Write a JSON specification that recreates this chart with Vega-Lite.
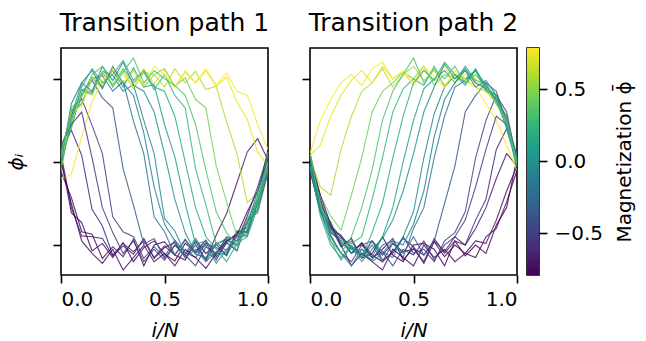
{
"$schema": "https://vega.github.io/schema/vega-lite/v6.json",
"background": "white",
"padding": {"left": 5, "top": 10, "right": 0, "bottom": 5},
"datasets": {
"lines": [{"l":1,"p":1,"m":-0.78},{"l":2,"p":1,"m":-0.76},{"l":3,"p":1,"m":-0.7},{"l":4,"p":1,"m":-0.62},{"l":5,"p":1,"m":-0.5},{"l":6,"p":1,"m":-0.35},{"l":7,"p":1,"m":-0.2},{"l":8,"p":1,"m":-0.05},{"l":9,"p":1,"m":0.1},{"l":10,"p":1,"m":0.25},{"l":11,"p":1,"m":0.45},{"l":12,"p":1,"m":0.6},{"l":13,"p":1,"m":0.72},{"l":14,"p":1,"m":0.78},
{"l":15,"p":2,"m":-0.78},{"l":16,"p":2,"m":-0.76},{"l":17,"p":2,"m":-0.7},{"l":18,"p":2,"m":-0.62},{"l":19,"p":2,"m":-0.5},{"l":20,"p":2,"m":-0.35},{"l":21,"p":2,"m":-0.2},{"l":22,"p":2,"m":-0.05},{"l":23,"p":2,"m":0.1},{"l":24,"p":2,"m":0.25},{"l":25,"p":2,"m":0.45},{"l":26,"p":2,"m":0.6},{"l":27,"p":2,"m":0.72},{"l":28,"p":2,"m":0.78},
{"l":29,"p":1,"m":-0.74},{"l":30,"p":1,"m":-0.55},{"l":31,"p":1,"m":-0.1},{"l":32,"p":1,"m":0.0},{"l":33,"p":1,"m":0.18},{"l":34,"p":1,"m":0.35},
{"l":35,"p":2,"m":-0.74},{"l":36,"p":2,"m":-0.55},{"l":37,"p":2,"m":-0.1},{"l":38,"p":2,"m":0.0},{"l":39,"p":2,"m":0.18},{"l":40,"p":2,"m":0.35}],
"bar": [{"lo": -0.79, "hi": 0.785}],
"pts": [
{"l":1,"x":0,"y":0.05},{"l":1,"x":0.05,"y":-0.61},{"l":1,"x":0.1,"y":-0.73},{"l":1,"x":0.15,"y":-1.07},{"l":1,"x":0.2,"y":-0.98},{"l":1,"x":0.25,"y":-1.15},{"l":1,"x":0.3,"y":-0.97},{"l":1,"x":0.35,"y":-1.2},{"l":1,"x":0.4,"y":-1.03},{"l":1,"x":0.45,"y":-0.95},{"l":1,"x":0.5,"y":-1.11},{"l":1,"x":0.55,"y":-1.19},{"l":1,"x":0.6,"y":-0.98},{"l":1,"x":0.65,"y":-1.08},{"l":1,"x":0.7,"y":-0.94},{"l":1,"x":0.75,"y":-1.14},{"l":1,"x":0.8,"y":-0.97},{"l":1,"x":0.85,"y":-1.07},{"l":1,"x":0.9,"y":-0.71},{"l":1,"x":0.95,"y":-0.57},{"l":1,"x":1,"y":-0.1},
{"l":2,"x":0,"y":-0.12},{"l":2,"x":0.05,"y":-0.43},{"l":2,"x":0.1,"y":-0.84},{"l":2,"x":0.15,"y":-0.87},{"l":2,"x":0.2,"y":-1.16},{"l":2,"x":0.25,"y":-1.02},{"l":2,"x":0.3,"y":-1.14},{"l":2,"x":0.35,"y":-0.93},{"l":2,"x":0.4,"y":-1.25},{"l":2,"x":0.45,"y":-1.0},{"l":2,"x":0.5,"y":-0.96},{"l":2,"x":0.55,"y":-1.12},{"l":2,"x":0.6,"y":-1.18},{"l":2,"x":0.65,"y":-0.95},{"l":2,"x":0.7,"y":-1.1},{"l":2,"x":0.75,"y":-0.99},{"l":2,"x":0.8,"y":-1.13},{"l":2,"x":0.85,"y":-0.86},{"l":2,"x":0.9,"y":-0.83},{"l":2,"x":0.95,"y":-0.41},{"l":2,"x":1,"y":0.15},
{"l":3,"x":0,"y":0.1},{"l":3,"x":0.05,"y":-0.55},{"l":3,"x":0.1,"y":-0.89},{"l":3,"x":0.15,"y":-0.9},{"l":3,"x":0.2,"y":-0.92},{"l":3,"x":0.25,"y":-1.13},{"l":3,"x":0.3,"y":-1.01},{"l":3,"x":0.35,"y":-1.11},{"l":3,"x":0.4,"y":-0.92},{"l":3,"x":0.45,"y":-1.16},{"l":3,"x":0.5,"y":-1.03},{"l":3,"x":0.55,"y":-0.97},{"l":3,"x":0.6,"y":-1.15},{"l":3,"x":0.65,"y":-1.0},{"l":3,"x":0.7,"y":-1.18},{"l":3,"x":0.75,"y":-0.88},{"l":3,"x":0.8,"y":-0.62},{"l":3,"x":0.85,"y":-0.25},{"l":3,"x":0.9,"y":0.12},{"l":3,"x":0.95,"y":0.28},{"l":3,"x":1,"y":0.02},
{"l":4,"x":0,"y":0.15},{"l":4,"x":0.05,"y":0.38},{"l":4,"x":0.1,"y":0.08},{"l":4,"x":0.15,"y":-0.57},{"l":4,"x":0.2,"y":-0.77},{"l":4,"x":0.25,"y":-1.12},{"l":4,"x":0.3,"y":-0.98},{"l":4,"x":0.35,"y":-1.08},{"l":4,"x":0.4,"y":-0.95},{"l":4,"x":0.45,"y":-1.15},{"l":4,"x":0.5,"y":-1.01},{"l":4,"x":0.55,"y":-1.12},{"l":4,"x":0.6,"y":-0.93},{"l":4,"x":0.65,"y":-1.1},{"l":4,"x":0.7,"y":-0.97},{"l":4,"x":0.75,"y":-1.18},{"l":4,"x":0.8,"y":-0.97},{"l":4,"x":0.85,"y":-0.85},{"l":4,"x":0.9,"y":-0.79},{"l":4,"x":0.95,"y":-0.45},{"l":4,"x":1,"y":-0.05},
{"l":5,"x":0,"y":-0.05},{"l":5,"x":0.05,"y":0.56},{"l":5,"x":0.1,"y":0.76},{"l":5,"x":0.15,"y":0.44},{"l":5,"x":0.2,"y":0.1},{"l":5,"x":0.25,"y":-0.66},{"l":5,"x":0.3,"y":-0.84},{"l":5,"x":0.35,"y":-0.9},{"l":5,"x":0.4,"y":-1.16},{"l":5,"x":0.45,"y":-1.02},{"l":5,"x":0.5,"y":-1.14},{"l":5,"x":0.55,"y":-0.94},{"l":5,"x":0.6,"y":-1.09},{"l":5,"x":0.65,"y":-1.15},{"l":5,"x":0.7,"y":-0.98},{"l":5,"x":0.75,"y":-1.03},{"l":5,"x":0.8,"y":-1.1},{"l":5,"x":0.85,"y":-0.83},{"l":5,"x":0.9,"y":-0.85},{"l":5,"x":0.95,"y":-0.48},{"l":5,"x":1,"y":0.1},
{"l":6,"x":0,"y":0.08},{"l":6,"x":0.05,"y":0.44},{"l":6,"x":0.1,"y":0.84},{"l":6,"x":0.15,"y":0.98},{"l":6,"x":0.2,"y":0.77},{"l":6,"x":0.25,"y":0.65},{"l":6,"x":0.3,"y":-0.08},{"l":6,"x":0.35,"y":-0.52},{"l":6,"x":0.4,"y":-0.99},{"l":6,"x":0.45,"y":-0.92},{"l":6,"x":0.5,"y":-1.16},{"l":6,"x":0.55,"y":-1.0},{"l":6,"x":0.6,"y":-1.12},{"l":6,"x":0.65,"y":-0.95},{"l":6,"x":0.7,"y":-1.19},{"l":6,"x":0.75,"y":-0.99},{"l":6,"x":0.8,"y":-0.93},{"l":6,"x":0.85,"y":-1.0},{"l":6,"x":0.9,"y":-0.69},{"l":6,"x":0.95,"y":-0.61},{"l":6,"x":1,"y":-0.12},
{"l":7,"x":0,"y":-0.1},{"l":7,"x":0.05,"y":0.62},{"l":7,"x":0.1,"y":0.7},{"l":7,"x":0.15,"y":1.0},{"l":7,"x":0.2,"y":1.04},{"l":7,"x":0.25,"y":0.85},{"l":7,"x":0.3,"y":0.97},{"l":7,"x":0.35,"y":0.49},{"l":7,"x":0.4,"y":0.1},{"l":7,"x":0.45,"y":-0.66},{"l":7,"x":0.5,"y":-0.84},{"l":7,"x":0.55,"y":-1.12},{"l":7,"x":0.6,"y":-0.94},{"l":7,"x":0.65,"y":-1.11},{"l":7,"x":0.7,"y":-1.15},{"l":7,"x":0.75,"y":-0.97},{"l":7,"x":0.8,"y":-1.07},{"l":7,"x":0.85,"y":-0.85},{"l":7,"x":0.9,"y":-0.89},{"l":7,"x":0.95,"y":-0.47},{"l":7,"x":1,"y":0.05},
{"l":8,"x":0,"y":0.12},{"l":8,"x":0.05,"y":0.45},{"l":8,"x":0.1,"y":0.85},{"l":8,"x":0.15,"y":0.82},{"l":8,"x":0.2,"y":1.09},{"l":8,"x":0.25,"y":1.04},{"l":8,"x":0.3,"y":0.85},{"l":8,"x":0.35,"y":0.93},{"l":8,"x":0.4,"y":0.5},{"l":8,"x":0.45,"y":0.1},{"l":8,"x":0.5,"y":-0.68},{"l":8,"x":0.55,"y":-0.83},{"l":8,"x":0.6,"y":-1.1},{"l":8,"x":0.65,"y":-0.92},{"l":8,"x":0.7,"y":-1.1},{"l":8,"x":0.75,"y":-1.15},{"l":8,"x":0.8,"y":-0.94},{"l":8,"x":0.85,"y":-1.01},{"l":8,"x":0.9,"y":-0.69},{"l":8,"x":0.95,"y":-0.48},{"l":8,"x":1,"y":-0.15},
{"l":9,"x":0,"y":-0.08},{"l":9,"x":0.05,"y":0.6},{"l":9,"x":0.1,"y":0.8},{"l":9,"x":0.15,"y":1.02},{"l":9,"x":0.2,"y":0.91},{"l":9,"x":0.25,"y":1.1},{"l":9,"x":0.3,"y":0.9},{"l":9,"x":0.35,"y":1.13},{"l":9,"x":0.4,"y":0.9},{"l":9,"x":0.45,"y":0.93},{"l":9,"x":0.5,"y":0.45},{"l":9,"x":0.55,"y":0.06},{"l":9,"x":0.6,"y":-0.5},{"l":9,"x":0.65,"y":-0.99},{"l":9,"x":0.7,"y":-0.95},{"l":9,"x":0.75,"y":-1.12},{"l":9,"x":0.8,"y":-0.92},{"l":9,"x":0.85,"y":-0.9},{"l":9,"x":0.9,"y":-0.89},{"l":9,"x":0.95,"y":-0.43},{"l":9,"x":1,"y":0.08},
{"l":10,"x":0,"y":0.05},{"l":10,"x":0.05,"y":0.4},{"l":10,"x":0.1,"y":0.87},{"l":10,"x":0.15,"y":0.84},{"l":10,"x":0.2,"y":1.07},{"l":10,"x":0.25,"y":0.92},{"l":10,"x":0.3,"y":1.12},{"l":10,"x":0.35,"y":0.95},{"l":10,"x":0.4,"y":1.08},{"l":10,"x":0.45,"y":0.87},{"l":10,"x":0.5,"y":1.05},{"l":10,"x":0.55,"y":0.8},{"l":10,"x":0.6,"y":0.65},{"l":10,"x":0.65,"y":-0.08},{"l":10,"x":0.7,"y":-0.52},{"l":10,"x":0.75,"y":-0.99},{"l":10,"x":0.8,"y":-0.92},{"l":10,"x":0.85,"y":-1.06},{"l":10,"x":0.9,"y":-0.69},{"l":10,"x":0.95,"y":-0.58},{"l":10,"x":1,"y":-0.05},
{"l":11,"x":0,"y":-0.12},{"l":11,"x":0.05,"y":0.58},{"l":11,"x":0.1,"y":0.7},{"l":11,"x":0.15,"y":1.0},{"l":11,"x":0.2,"y":0.89},{"l":11,"x":0.25,"y":1.12},{"l":11,"x":0.3,"y":0.94},{"l":11,"x":0.35,"y":1.1},{"l":11,"x":0.4,"y":0.9},{"l":11,"x":0.45,"y":1.05},{"l":11,"x":0.5,"y":1.12},{"l":11,"x":0.55,"y":0.91},{"l":11,"x":0.6,"y":1.01},{"l":11,"x":0.65,"y":0.75},{"l":11,"x":0.7,"y":0.65},{"l":11,"x":0.75,"y":-0.05},{"l":11,"x":0.8,"y":-0.48},{"l":11,"x":0.85,"y":-0.9},{"l":11,"x":0.9,"y":-0.7},{"l":11,"x":0.95,"y":-0.42},{"l":11,"x":1,"y":0.12},
{"l":12,"x":0,"y":0.1},{"l":12,"x":0.05,"y":0.45},{"l":12,"x":0.1,"y":0.85},{"l":12,"x":0.15,"y":0.8},{"l":12,"x":0.2,"y":1.09},{"l":12,"x":0.25,"y":0.94},{"l":12,"x":0.3,"y":1.1},{"l":12,"x":0.35,"y":0.88},{"l":12,"x":0.4,"y":1.08},{"l":12,"x":0.45,"y":1.05},{"l":12,"x":0.5,"y":0.9},{"l":12,"x":0.55,"y":1.12},{"l":12,"x":0.6,"y":0.95},{"l":12,"x":0.65,"y":1.09},{"l":12,"x":0.7,"y":0.87},{"l":12,"x":0.75,"y":0.91},{"l":12,"x":0.8,"y":0.48},{"l":12,"x":0.85,"y":0.1},{"l":12,"x":0.9,"y":-0.49},{"l":12,"x":0.95,"y":-0.37},{"l":12,"x":1,"y":-0.1},
{"l":13,"x":0,"y":-0.05},{"l":13,"x":0.05,"y":0.6},{"l":13,"x":0.1,"y":0.67},{"l":13,"x":0.15,"y":1.02},{"l":13,"x":0.2,"y":0.92},{"l":13,"x":0.25,"y":1.1},{"l":13,"x":0.3,"y":1.05},{"l":13,"x":0.35,"y":0.9},{"l":13,"x":0.4,"y":1.12},{"l":13,"x":0.45,"y":0.94},{"l":13,"x":0.5,"y":1.1},{"l":13,"x":0.55,"y":0.9},{"l":13,"x":0.6,"y":1.08},{"l":13,"x":0.65,"y":0.95},{"l":13,"x":0.7,"y":1.1},{"l":13,"x":0.75,"y":0.91},{"l":13,"x":0.8,"y":1.02},{"l":13,"x":0.85,"y":0.72},{"l":13,"x":0.9,"y":0.51},{"l":13,"x":0.95,"y":0.12},{"l":13,"x":1,"y":-0.05},
{"l":14,"x":0,"y":-0.2},{"l":14,"x":0.05,"y":-0.15},{"l":14,"x":0.1,"y":0.3},{"l":14,"x":0.15,"y":0.72},{"l":14,"x":0.2,"y":0.98},{"l":14,"x":0.25,"y":1.12},{"l":14,"x":0.3,"y":0.95},{"l":14,"x":0.35,"y":1.1},{"l":14,"x":0.4,"y":0.92},{"l":14,"x":0.45,"y":1.15},{"l":14,"x":0.5,"y":1.05},{"l":14,"x":0.55,"y":0.9},{"l":14,"x":0.6,"y":1.1},{"l":14,"x":0.65,"y":0.95},{"l":14,"x":0.7,"y":1.12},{"l":14,"x":0.75,"y":0.92},{"l":14,"x":0.8,"y":1.07},{"l":14,"x":0.85,"y":0.85},{"l":14,"x":0.9,"y":0.8},{"l":14,"x":0.95,"y":0.45},{"l":14,"x":1,"y":0.15},
{"l":15,"x":0,"y":-0.1},{"l":15,"x":0.05,"y":-0.6},{"l":15,"x":0.1,"y":-0.78},{"l":15,"x":0.15,"y":-1.02},{"l":15,"x":0.2,"y":-0.92},{"l":15,"x":0.25,"y":-1.16},{"l":15,"x":0.3,"y":-1.1},{"l":15,"x":0.35,"y":-0.9},{"l":15,"x":0.4,"y":-1.12},{"l":15,"x":0.45,"y":-1.2},{"l":15,"x":0.5,"y":-1.0},{"l":15,"x":0.55,"y":-0.98},{"l":15,"x":0.6,"y":-1.05},{"l":15,"x":0.65,"y":-1.25},{"l":15,"x":0.7,"y":-0.95},{"l":15,"x":0.75,"y":-1.13},{"l":15,"x":0.8,"y":-1.0},{"l":15,"x":0.85,"y":-1.1},{"l":15,"x":0.9,"y":-0.76},{"l":15,"x":0.95,"y":-0.55},{"l":15,"x":1,"y":0.05},
{"l":16,"x":0,"y":0.1},{"l":16,"x":0.05,"y":-0.45},{"l":16,"x":0.1,"y":-0.8},{"l":16,"x":0.15,"y":-0.9},{"l":16,"x":0.2,"y":-1.1},{"l":16,"x":0.25,"y":-0.97},{"l":16,"x":0.3,"y":-1.12},{"l":16,"x":0.35,"y":-1.2},{"l":16,"x":0.4,"y":-1.08},{"l":16,"x":0.45,"y":-0.92},{"l":16,"x":0.5,"y":-1.02},{"l":16,"x":0.55,"y":-1.22},{"l":16,"x":0.6,"y":-0.96},{"l":16,"x":0.65,"y":-1.14},{"l":16,"x":0.7,"y":-1.0},{"l":16,"x":0.75,"y":-1.1},{"l":16,"x":0.8,"y":-1.15},{"l":16,"x":0.85,"y":-0.9},{"l":16,"x":0.9,"y":-0.8},{"l":16,"x":0.95,"y":-0.48},{"l":16,"x":1,"y":-0.1},
{"l":17,"x":0,"y":0.05},{"l":17,"x":0.05,"y":-0.5},{"l":17,"x":0.1,"y":-0.85},{"l":17,"x":0.15,"y":-0.95},{"l":17,"x":0.2,"y":-1.1},{"l":17,"x":0.25,"y":-0.98},{"l":17,"x":0.3,"y":-1.15},{"l":17,"x":0.35,"y":-1.05},{"l":17,"x":0.4,"y":-0.92},{"l":17,"x":0.45,"y":-1.18},{"l":17,"x":0.5,"y":-1.04},{"l":17,"x":0.55,"y":-1.12},{"l":17,"x":0.6,"y":-0.95},{"l":17,"x":0.65,"y":-1.08},{"l":17,"x":0.7,"y":-0.9},{"l":17,"x":0.75,"y":-1.0},{"l":17,"x":0.8,"y":-0.8},{"l":17,"x":0.85,"y":-0.55},{"l":17,"x":0.9,"y":-0.2},{"l":17,"x":0.95,"y":0.1},{"l":17,"x":1,"y":-0.05},
{"l":18,"x":0,"y":-0.05},{"l":18,"x":0.05,"y":-0.5},{"l":18,"x":0.1,"y":-0.76},{"l":18,"x":0.15,"y":-0.9},{"l":18,"x":0.2,"y":-1.02},{"l":18,"x":0.25,"y":-1.15},{"l":18,"x":0.3,"y":-0.95},{"l":18,"x":0.35,"y":-1.12},{"l":18,"x":0.4,"y":-0.98},{"l":18,"x":0.45,"y":-1.08},{"l":18,"x":0.5,"y":-1.05},{"l":18,"x":0.55,"y":-1.2},{"l":18,"x":0.6,"y":-0.92},{"l":18,"x":0.65,"y":-1.1},{"l":18,"x":0.7,"y":-0.95},{"l":18,"x":0.75,"y":-1.0},{"l":18,"x":0.8,"y":-0.7},{"l":18,"x":0.85,"y":-0.45},{"l":18,"x":0.9,"y":0.15},{"l":18,"x":0.95,"y":0.4},{"l":18,"x":1,"y":0.05},
{"l":19,"x":0,"y":0.1},{"l":19,"x":0.05,"y":-0.5},{"l":19,"x":0.1,"y":-0.8},{"l":19,"x":0.15,"y":-0.88},{"l":19,"x":0.2,"y":-1.05},{"l":19,"x":0.25,"y":-1.0},{"l":19,"x":0.3,"y":-0.95},{"l":19,"x":0.35,"y":-1.18},{"l":19,"x":0.4,"y":-1.1},{"l":19,"x":0.45,"y":-0.9},{"l":19,"x":0.5,"y":-1.1},{"l":19,"x":0.55,"y":-1.05},{"l":19,"x":0.6,"y":-1.2},{"l":19,"x":0.65,"y":-0.95},{"l":19,"x":0.7,"y":-0.85},{"l":19,"x":0.75,"y":-0.6},{"l":19,"x":0.8,"y":0.05},{"l":19,"x":0.85,"y":0.5},{"l":19,"x":0.9,"y":0.8},{"l":19,"x":0.95,"y":0.6},{"l":19,"x":1,"y":0.0},
{"l":20,"x":0,"y":-0.05},{"l":20,"x":0.05,"y":-0.58},{"l":20,"x":0.1,"y":-0.72},{"l":20,"x":0.15,"y":-1.02},{"l":20,"x":0.2,"y":-0.95},{"l":20,"x":0.25,"y":-1.15},{"l":20,"x":0.3,"y":-1.0},{"l":20,"x":0.35,"y":-1.2},{"l":20,"x":0.4,"y":-0.98},{"l":20,"x":0.45,"y":-1.1},{"l":20,"x":0.5,"y":-0.9},{"l":20,"x":0.55,"y":-1.12},{"l":20,"x":0.6,"y":-0.95},{"l":20,"x":0.65,"y":-0.5},{"l":20,"x":0.7,"y":-0.05},{"l":20,"x":0.75,"y":0.6},{"l":20,"x":0.8,"y":0.8},{"l":20,"x":0.85,"y":0.95},{"l":20,"x":0.9,"y":0.85},{"l":20,"x":0.95,"y":0.48},{"l":20,"x":1,"y":0.05},
{"l":21,"x":0,"y":0.08},{"l":21,"x":0.05,"y":-0.5},{"l":21,"x":0.1,"y":-0.85},{"l":21,"x":0.15,"y":-0.92},{"l":21,"x":0.2,"y":-1.02},{"l":21,"x":0.25,"y":-1.1},{"l":21,"x":0.3,"y":-1.18},{"l":21,"x":0.35,"y":-1.0},{"l":21,"x":0.4,"y":-0.95},{"l":21,"x":0.45,"y":-1.15},{"l":21,"x":0.5,"y":-0.8},{"l":21,"x":0.55,"y":-0.55},{"l":21,"x":0.6,"y":0.05},{"l":21,"x":0.65,"y":0.55},{"l":21,"x":0.7,"y":0.9},{"l":21,"x":0.75,"y":0.98},{"l":21,"x":0.8,"y":1.1},{"l":21,"x":0.85,"y":0.92},{"l":21,"x":0.9,"y":0.75},{"l":21,"x":0.95,"y":0.55},{"l":21,"x":1,"y":-0.05},
{"l":22,"x":0,"y":-0.1},{"l":22,"x":0.05,"y":-0.52},{"l":22,"x":0.1,"y":-0.75},{"l":22,"x":0.15,"y":-0.98},{"l":22,"x":0.2,"y":-1.05},{"l":22,"x":0.25,"y":-1.12},{"l":22,"x":0.3,"y":-0.95},{"l":22,"x":0.35,"y":-1.08},{"l":22,"x":0.4,"y":-1.15},{"l":22,"x":0.45,"y":-0.9},{"l":22,"x":0.5,"y":-0.6},{"l":22,"x":0.55,"y":0.05},{"l":22,"x":0.6,"y":0.58},{"l":22,"x":0.65,"y":0.9},{"l":22,"x":0.7,"y":1.05},{"l":22,"x":0.75,"y":0.95},{"l":22,"x":0.8,"y":1.12},{"l":22,"x":0.85,"y":0.88},{"l":22,"x":0.9,"y":0.8},{"l":22,"x":0.95,"y":0.5},{"l":22,"x":1,"y":0.08},
{"l":23,"x":0,"y":0.05},{"l":23,"x":0.05,"y":-0.5},{"l":23,"x":0.1,"y":-0.82},{"l":23,"x":0.15,"y":-0.95},{"l":23,"x":0.2,"y":-1.1},{"l":23,"x":0.25,"y":-1.05},{"l":23,"x":0.3,"y":-1.15},{"l":23,"x":0.35,"y":-0.9},{"l":23,"x":0.4,"y":-0.55},{"l":23,"x":0.45,"y":0.0},{"l":23,"x":0.5,"y":0.5},{"l":23,"x":0.55,"y":0.88},{"l":23,"x":0.6,"y":1.0},{"l":23,"x":0.65,"y":1.1},{"l":23,"x":0.7,"y":0.95},{"l":23,"x":0.75,"y":1.15},{"l":23,"x":0.8,"y":0.98},{"l":23,"x":0.85,"y":0.95},{"l":23,"x":0.9,"y":0.72},{"l":23,"x":0.95,"y":0.52},{"l":23,"x":1,"y":-0.1},
{"l":24,"x":0,"y":-0.08},{"l":24,"x":0.05,"y":-0.55},{"l":24,"x":0.1,"y":-0.75},{"l":24,"x":0.15,"y":-1.0},{"l":24,"x":0.2,"y":-0.98},{"l":24,"x":0.25,"y":-0.9},{"l":24,"x":0.3,"y":-0.45},{"l":24,"x":0.35,"y":0.05},{"l":24,"x":0.4,"y":0.6},{"l":24,"x":0.45,"y":0.88},{"l":24,"x":0.5,"y":1.0},{"l":24,"x":0.55,"y":0.92},{"l":24,"x":0.6,"y":1.15},{"l":24,"x":0.65,"y":0.9},{"l":24,"x":0.7,"y":1.05},{"l":24,"x":0.75,"y":1.0},{"l":24,"x":0.8,"y":1.1},{"l":24,"x":0.85,"y":0.9},{"l":24,"x":0.9,"y":0.8},{"l":24,"x":0.95,"y":0.45},{"l":24,"x":1,"y":0.0},
{"l":25,"x":0,"y":0.1},{"l":25,"x":0.05,"y":-0.4},{"l":25,"x":0.1,"y":-0.65},{"l":25,"x":0.15,"y":-0.82},{"l":25,"x":0.2,"y":-0.4},{"l":25,"x":0.25,"y":0.05},{"l":25,"x":0.3,"y":0.6},{"l":25,"x":0.35,"y":0.85},{"l":25,"x":0.4,"y":0.95},{"l":25,"x":0.45,"y":1.08},{"l":25,"x":0.5,"y":1.0},{"l":25,"x":0.55,"y":1.15},{"l":25,"x":0.6,"y":0.92},{"l":25,"x":0.65,"y":1.05},{"l":25,"x":0.7,"y":1.0},{"l":25,"x":0.75,"y":1.1},{"l":25,"x":0.8,"y":0.95},{"l":25,"x":0.85,"y":0.9},{"l":25,"x":0.9,"y":0.75},{"l":25,"x":0.95,"y":0.5},{"l":25,"x":1,"y":-0.05},
{"l":26,"x":0,"y":0.05},{"l":26,"x":0.05,"y":-0.3},{"l":26,"x":0.1,"y":-0.4},{"l":26,"x":0.15,"y":0.15},{"l":26,"x":0.2,"y":0.55},{"l":26,"x":0.25,"y":0.85},{"l":26,"x":0.3,"y":0.95},{"l":26,"x":0.35,"y":1.12},{"l":26,"x":0.4,"y":0.9},{"l":26,"x":0.45,"y":1.05},{"l":26,"x":0.5,"y":1.15},{"l":26,"x":0.55,"y":0.98},{"l":26,"x":0.6,"y":1.1},{"l":26,"x":0.65,"y":0.92},{"l":26,"x":0.7,"y":1.05},{"l":26,"x":0.75,"y":1.0},{"l":26,"x":0.8,"y":0.9},{"l":26,"x":0.85,"y":0.85},{"l":26,"x":0.9,"y":0.72},{"l":26,"x":0.95,"y":0.5},{"l":26,"x":1,"y":0.0},
{"l":27,"x":0,"y":0.08},{"l":27,"x":0.05,"y":0.2},{"l":27,"x":0.1,"y":0.55},{"l":27,"x":0.15,"y":0.8},{"l":27,"x":0.2,"y":0.98},{"l":27,"x":0.25,"y":1.1},{"l":27,"x":0.3,"y":0.95},{"l":27,"x":0.35,"y":1.15},{"l":27,"x":0.4,"y":1.0},{"l":27,"x":0.45,"y":1.08},{"l":27,"x":0.5,"y":0.92},{"l":27,"x":0.55,"y":1.1},{"l":27,"x":0.6,"y":0.98},{"l":27,"x":0.65,"y":1.15},{"l":27,"x":0.7,"y":0.95},{"l":27,"x":0.75,"y":1.05},{"l":27,"x":0.8,"y":1.0},{"l":27,"x":0.85,"y":0.85},{"l":27,"x":0.9,"y":0.7},{"l":27,"x":0.95,"y":0.45},{"l":27,"x":1,"y":-0.02},
{"l":28,"x":0,"y":0.1},{"l":28,"x":0.05,"y":0.5},{"l":28,"x":0.1,"y":0.75},{"l":28,"x":0.15,"y":0.95},{"l":28,"x":0.2,"y":1.05},{"l":28,"x":0.25,"y":0.92},{"l":28,"x":0.3,"y":1.12},{"l":28,"x":0.35,"y":1.2},{"l":28,"x":0.4,"y":1.0},{"l":28,"x":0.45,"y":1.1},{"l":28,"x":0.5,"y":0.95},{"l":28,"x":0.55,"y":1.15},{"l":28,"x":0.6,"y":1.02},{"l":28,"x":0.65,"y":0.9},{"l":28,"x":0.7,"y":1.1},{"l":28,"x":0.75,"y":0.98},{"l":28,"x":0.8,"y":0.9},{"l":28,"x":0.85,"y":0.7},{"l":28,"x":0.9,"y":0.5},{"l":28,"x":0.95,"y":0.2},{"l":28,"x":1,"y":-0.1},
{"l":29,"x":0,"y":0.0},{"l":29,"x":0.05,"y":-0.5},{"l":29,"x":0.1,"y":-0.95},{"l":29,"x":0.15,"y":-1.1},{"l":29,"x":0.2,"y":-1.22},{"l":29,"x":0.25,"y":-1.05},{"l":29,"x":0.3,"y":-1.3},{"l":29,"x":0.35,"y":-1.15},{"l":29,"x":0.4,"y":-1.0},{"l":29,"x":0.45,"y":-1.2},{"l":29,"x":0.5,"y":-1.1},{"l":29,"x":0.55,"y":-1.25},{"l":29,"x":0.6,"y":-1.05},{"l":29,"x":0.65,"y":-1.15},{"l":29,"x":0.7,"y":-1.28},{"l":29,"x":0.75,"y":-1.1},{"l":29,"x":0.8,"y":-0.95},{"l":29,"x":0.85,"y":-0.88},{"l":29,"x":0.9,"y":-0.6},{"l":29,"x":0.95,"y":-0.35},{"l":29,"x":1,"y":0.05},
{"l":30,"x":0,"y":0.2},{"l":30,"x":0.05,"y":0.45},{"l":30,"x":0.1,"y":0.6},{"l":30,"x":0.15,"y":0.05},{"l":30,"x":0.2,"y":-0.55},{"l":30,"x":0.25,"y":-0.85},{"l":30,"x":0.3,"y":-1.1},{"l":30,"x":0.35,"y":-0.95},{"l":30,"x":0.4,"y":-1.2},{"l":30,"x":0.45,"y":-1.05},{"l":30,"x":0.5,"y":-1.18},{"l":30,"x":0.55,"y":-1.0},{"l":30,"x":0.6,"y":-1.12},{"l":30,"x":0.65,"y":-1.25},{"l":30,"x":0.7,"y":-1.02},{"l":30,"x":0.75,"y":-1.1},{"l":30,"x":0.8,"y":-0.9},{"l":30,"x":0.85,"y":-0.95},{"l":30,"x":0.9,"y":-0.65},{"l":30,"x":0.95,"y":-0.3},{"l":30,"x":1,"y":0.1},
{"l":31,"x":0,"y":0.0},{"l":31,"x":0.05,"y":0.7},{"l":31,"x":0.1,"y":0.95},{"l":31,"x":0.15,"y":1.1},{"l":31,"x":0.2,"y":0.88},{"l":31,"x":0.25,"y":1.15},{"l":31,"x":0.3,"y":0.95},{"l":31,"x":0.35,"y":0.8},{"l":31,"x":0.4,"y":0.35},{"l":31,"x":0.45,"y":-0.3},{"l":31,"x":0.5,"y":-0.75},{"l":31,"x":0.55,"y":-0.95},{"l":31,"x":0.6,"y":-1.15},{"l":31,"x":0.65,"y":-1.05},{"l":31,"x":0.7,"y":-1.2},{"l":31,"x":0.75,"y":-1.08},{"l":31,"x":0.8,"y":-1.12},{"l":31,"x":0.85,"y":-0.9},{"l":31,"x":0.9,"y":-0.75},{"l":31,"x":0.95,"y":-0.35},{"l":31,"x":1,"y":0.0},
{"l":32,"x":0,"y":0.15},{"l":32,"x":0.05,"y":0.55},{"l":32,"x":0.1,"y":0.95},{"l":32,"x":0.15,"y":0.85},{"l":32,"x":0.2,"y":1.15},{"l":32,"x":0.25,"y":0.98},{"l":32,"x":0.3,"y":1.2},{"l":32,"x":0.35,"y":0.92},{"l":32,"x":0.4,"y":0.85},{"l":32,"x":0.45,"y":0.6},{"l":32,"x":0.5,"y":0.1},{"l":32,"x":0.55,"y":-0.45},{"l":32,"x":0.6,"y":-0.85},{"l":32,"x":0.65,"y":-1.1},{"l":32,"x":0.7,"y":-1.0},{"l":32,"x":0.75,"y":-1.22},{"l":32,"x":0.8,"y":-1.05},{"l":32,"x":0.85,"y":-0.95},{"l":32,"x":0.9,"y":-0.85},{"l":32,"x":0.95,"y":-0.5},{"l":32,"x":1,"y":-0.05},
{"l":33,"x":0,"y":-0.05},{"l":33,"x":0.05,"y":0.5},{"l":33,"x":0.1,"y":0.9},{"l":33,"x":0.15,"y":1.12},{"l":33,"x":0.2,"y":0.95},{"l":33,"x":0.25,"y":1.05},{"l":33,"x":0.3,"y":1.22},{"l":33,"x":0.35,"y":0.98},{"l":33,"x":0.4,"y":1.1},{"l":33,"x":0.45,"y":0.9},{"l":33,"x":0.5,"y":0.85},{"l":33,"x":0.55,"y":0.55},{"l":33,"x":0.6,"y":0.0},{"l":33,"x":0.65,"y":-0.55},{"l":33,"x":0.7,"y":-0.9},{"l":33,"x":0.75,"y":-1.05},{"l":33,"x":0.8,"y":-1.2},{"l":33,"x":0.85,"y":-0.98},{"l":33,"x":0.9,"y":-0.9},{"l":33,"x":0.95,"y":-0.55},{"l":33,"x":1,"y":0.1},
{"l":34,"x":0,"y":0.05},{"l":34,"x":0.05,"y":0.65},{"l":34,"x":0.1,"y":0.78},{"l":34,"x":0.15,"y":1.05},{"l":34,"x":0.2,"y":1.15},{"l":34,"x":0.25,"y":0.9},{"l":34,"x":0.3,"y":1.08},{"l":34,"x":0.35,"y":1.25},{"l":34,"x":0.4,"y":0.95},{"l":34,"x":0.45,"y":1.1},{"l":34,"x":0.5,"y":1.0},{"l":34,"x":0.55,"y":0.92},{"l":34,"x":0.6,"y":0.8},{"l":34,"x":0.65,"y":0.45},{"l":34,"x":0.7,"y":-0.1},{"l":34,"x":0.75,"y":-0.6},{"l":34,"x":0.8,"y":-0.85},{"l":34,"x":0.85,"y":-1.0},{"l":34,"x":0.9,"y":-0.8},{"l":34,"x":0.95,"y":-0.45},{"l":34,"x":1,"y":0.0},
{"l":35,"x":0,"y":0.05},{"l":35,"x":0.05,"y":-0.4},{"l":35,"x":0.1,"y":-0.75},{"l":35,"x":0.15,"y":-1.0},{"l":35,"x":0.2,"y":-1.25},{"l":35,"x":0.25,"y":-1.1},{"l":35,"x":0.3,"y":-1.2},{"l":35,"x":0.35,"y":-1.3},{"l":35,"x":0.4,"y":-1.05},{"l":35,"x":0.45,"y":-1.15},{"l":35,"x":0.5,"y":-1.25},{"l":35,"x":0.55,"y":-1.0},{"l":35,"x":0.6,"y":-1.15},{"l":35,"x":0.65,"y":-1.05},{"l":35,"x":0.7,"y":-1.2},{"l":35,"x":0.75,"y":-1.1},{"l":35,"x":0.8,"y":-0.95},{"l":35,"x":0.85,"y":-0.98},{"l":35,"x":0.9,"y":-0.7},{"l":35,"x":0.95,"y":-0.35},{"l":35,"x":1,"y":-0.05},
{"l":36,"x":0,"y":-0.1},{"l":36,"x":0.05,"y":-0.6},{"l":36,"x":0.1,"y":-0.9},{"l":36,"x":0.15,"y":-1.1},{"l":36,"x":0.2,"y":-1.2},{"l":36,"x":0.25,"y":-1.0},{"l":36,"x":0.3,"y":-1.15},{"l":36,"x":0.35,"y":-1.08},{"l":36,"x":0.4,"y":-1.25},{"l":36,"x":0.45,"y":-1.05},{"l":36,"x":0.5,"y":-1.12},{"l":36,"x":0.55,"y":-0.95},{"l":36,"x":0.6,"y":-1.18},{"l":36,"x":0.65,"y":-1.0},{"l":36,"x":0.7,"y":-0.9},{"l":36,"x":0.75,"y":-0.7},{"l":36,"x":0.8,"y":-0.3},{"l":36,"x":0.85,"y":0.15},{"l":36,"x":0.9,"y":0.55},{"l":36,"x":0.95,"y":0.45},{"l":36,"x":1,"y":0.05},
{"l":37,"x":0,"y":0.0},{"l":37,"x":0.05,"y":-0.55},{"l":37,"x":0.1,"y":-0.88},{"l":37,"x":0.15,"y":-1.1},{"l":37,"x":0.2,"y":-1.25},{"l":37,"x":0.25,"y":-1.05},{"l":37,"x":0.3,"y":-1.2},{"l":37,"x":0.35,"y":-1.1},{"l":37,"x":0.4,"y":-0.95},{"l":37,"x":0.45,"y":-1.0},{"l":37,"x":0.5,"y":-0.75},{"l":37,"x":0.55,"y":-0.35},{"l":37,"x":0.6,"y":0.3},{"l":37,"x":0.65,"y":0.75},{"l":37,"x":0.7,"y":0.95},{"l":37,"x":0.75,"y":1.1},{"l":37,"x":0.8,"y":0.9},{"l":37,"x":0.85,"y":0.98},{"l":37,"x":0.9,"y":0.8},{"l":37,"x":0.95,"y":0.5},{"l":37,"x":1,"y":0.05},
{"l":38,"x":0,"y":0.1},{"l":38,"x":0.05,"y":-0.6},{"l":38,"x":0.1,"y":-0.95},{"l":38,"x":0.15,"y":-1.18},{"l":38,"x":0.2,"y":-1.02},{"l":38,"x":0.25,"y":-1.2},{"l":38,"x":0.3,"y":-1.05},{"l":38,"x":0.35,"y":-0.92},{"l":38,"x":0.4,"y":-0.7},{"l":38,"x":0.45,"y":-0.35},{"l":38,"x":0.5,"y":0.1},{"l":38,"x":0.55,"y":0.6},{"l":38,"x":0.6,"y":0.9},{"l":38,"x":0.65,"y":1.18},{"l":38,"x":0.7,"y":1.0},{"l":38,"x":0.75,"y":1.12},{"l":38,"x":0.8,"y":0.95},{"l":38,"x":0.85,"y":0.88},{"l":38,"x":0.9,"y":0.75},{"l":38,"x":0.95,"y":0.4},{"l":38,"x":1,"y":-0.05},
{"l":39,"x":0,"y":-0.05},{"l":39,"x":0.05,"y":-0.65},{"l":39,"x":0.1,"y":-1.0},{"l":39,"x":0.15,"y":-1.15},{"l":39,"x":0.2,"y":-1.0},{"l":39,"x":0.25,"y":-1.15},{"l":39,"x":0.3,"y":-0.85},{"l":39,"x":0.35,"y":-0.5},{"l":39,"x":0.4,"y":0.05},{"l":39,"x":0.45,"y":0.55},{"l":39,"x":0.5,"y":0.95},{"l":39,"x":0.55,"y":1.1},{"l":39,"x":0.6,"y":0.98},{"l":39,"x":0.65,"y":1.2},{"l":39,"x":0.7,"y":1.05},{"l":39,"x":0.75,"y":0.92},{"l":39,"x":0.8,"y":1.1},{"l":39,"x":0.85,"y":0.85},{"l":39,"x":0.9,"y":0.8},{"l":39,"x":0.95,"y":0.45},{"l":39,"x":1,"y":0.0},
{"l":40,"x":0,"y":0.1},{"l":40,"x":0.05,"y":-0.5},{"l":40,"x":0.1,"y":-0.95},{"l":40,"x":0.15,"y":-1.1},{"l":40,"x":0.2,"y":-0.9},{"l":40,"x":0.25,"y":-0.55},{"l":40,"x":0.3,"y":-0.1},{"l":40,"x":0.35,"y":0.5},{"l":40,"x":0.4,"y":0.85},{"l":40,"x":0.45,"y":1.05},{"l":40,"x":0.5,"y":1.25},{"l":40,"x":0.55,"y":0.95},{"l":40,"x":0.6,"y":1.12},{"l":40,"x":0.65,"y":1.0},{"l":40,"x":0.7,"y":1.15},{"l":40,"x":0.75,"y":0.95},{"l":40,"x":0.8,"y":1.05},{"l":40,"x":0.85,"y":0.9},{"l":40,"x":0.9,"y":0.7},{"l":40,"x":0.95,"y":0.5},{"l":40,"x":1,"y":0.0}
]
},
"config": {
"font": "DejaVu Sans",
"view": {"stroke": "black", "strokeWidth": 1.6},
"axis": {"grid": false, "domain": false, "tickColor": "black", "tickWidth": 1.6, "tickSize": 8, "labelFontSize": 20, "labelColor": "black", "labelFont": "DejaVu Sans", "titleFontSize": 20, "titleFontWeight": "normal", "titleColor": "black", "titleFont": "DejaVu Sans"},
"title": {"fontSize": 25, "fontWeight": "normal", "font": "DejaVu Sans", "color": "black", "anchor": "middle"}
},
"spacing": 42,
"bounds": "flush",
"resolve": {"scale": {"color": "shared"}},
"hconcat": [
{
"title": {"text": "Transition path 1", "offset": 12},
"width": 207, "height": 227,
"data": {"name": "pts"},
"transform": [{"lookup": "l", "from": {"data": {"name": "lines"}, "key": "l", "fields": ["m", "p"]}}, {"filter": "datum.p == 1"}],
"mark": {"type": "line", "strokeWidth": 1.1, "opacity": 0.85, "clip": true},
"encoding": {
"x": {"field": "x", "type": "quantitative", "scale": {"domain": [0, 1], "nice": false}, "axis": {"values": [0, 0.5, 1], "format": ".1f", "title": "i/N", "titleFontStyle": "italic", "labelPadding": 6, "titlePadding": 11}},
"y": {"field": "y", "type": "quantitative", "scale": {"domain": [-1.36, 1.37], "nice": false, "zero": false}, "axis": {"values": [-1, 0, 1], "labels": false, "title": "ϕᵢ", "titleFontStyle": "italic", "titlePadding": 26}},
"color": {"field": "m", "type": "quantitative", "scale": {"scheme": "viridis", "domain": [-0.79, 0.785]}, "legend": null},
"detail": {"field": "l", "type": "nominal"}
}
},
{
"hconcat": [
{
"title": {"text": "Transition path 2", "offset": 12},
"width": 207, "height": 227,
"data": {"name": "pts"},
"transform": [{"lookup": "l", "from": {"data": {"name": "lines"}, "key": "l", "fields": ["m", "p"]}}, {"filter": "datum.p == 2"}],
"mark": {"type": "line", "strokeWidth": 1.1, "opacity": 0.85, "clip": true},
"encoding": {
"x": {"field": "x", "type": "quantitative", "scale": {"domain": [0, 1], "nice": false}, "axis": {"values": [0, 0.5, 1], "format": ".1f", "title": "i/N", "titleFontStyle": "italic", "labelPadding": 6, "titlePadding": 11}},
"y": {"field": "y", "type": "quantitative", "scale": {"domain": [-1.36, 1.37], "nice": false, "zero": false}, "axis": {"values": [-1, 0, 1], "labels": false, "title": null}},
"color": {"field": "m", "type": "quantitative", "scale": {"scheme": "viridis", "domain": [-0.79, 0.785]}, "legend": null},
"detail": {"field": "l", "type": "nominal"}
}
},
{
"width": 12, "height": 227,
"data": {"name": "bar"},
"mark": {"type": "rect", "fill": {"gradient": "linear", "x1": 0, "y1": 1, "x2": 0, "y2": 0, "stops": [{"offset": 0, "color": "#440154"}, {"offset": 0.111, "color": "#482878"}, {"offset": 0.222, "color": "#3e4989"}, {"offset": 0.333, "color": "#31688e"}, {"offset": 0.444, "color": "#26828e"}, {"offset": 0.556, "color": "#1f9e89"}, {"offset": 0.667, "color": "#35b779"}, {"offset": 0.778, "color": "#6ece58"}, {"offset": 0.889, "color": "#b5de2b"}, {"offset": 1, "color": "#fde725"}]}},
"encoding": {
"y": {"field": "lo", "type": "quantitative", "scale": {"domain": [-0.79, 0.785], "nice": false, "zero": false}, "axis": {"orient": "right", "values": [-0.5, 0, 0.5], "format": ".1f", "title": "Magnetization ϕ̄", "titleAngle": 270, "titleBaseline": "top", "labelPadding": 7, "titlePadding": 12}},
"y2": {"field": "hi"}
}
}
],
"spacing": 10,
"bounds": "flush"
}
]
}
